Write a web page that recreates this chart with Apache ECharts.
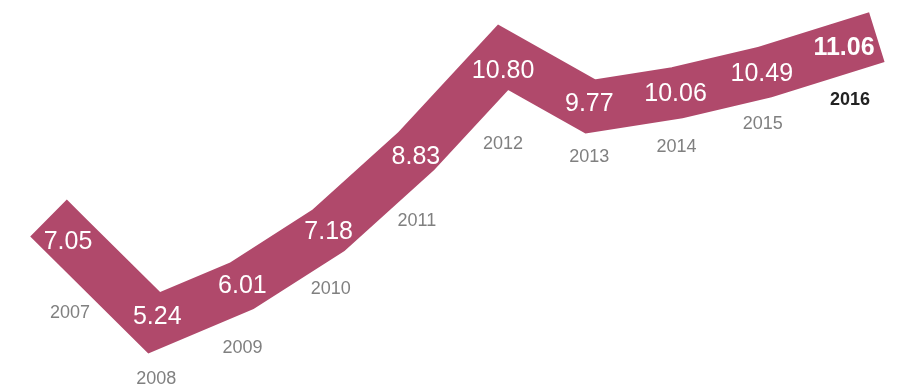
<!DOCTYPE html>
<html>
<head>
<meta charset="utf-8">
<script src="https://cdn.jsdelivr.net/npm/echarts@6/dist/echarts.min.js"></script>
<style>
  html, body { margin: 0; padding: 0; background: #ffffff; }
  #chart { width: 905px; height: 390px; }
</style>
</head>
<body>
<div id="chart"></div>
<script>
// Yearly values drawn as a thick ribbon
const years = ['2007', '2008', '2009', '2010', '2011', '2012', '2013', '2014', '2015', '2016'];
const values = [7.05, 5.24, 6.01, 7.18, 8.83, 10.80, 9.77, 10.06, 10.49, 11.06];
const valueLabels = ['7.05', '5.24', '6.01', '7.18', '8.83', '10.80', '9.77', '10.06', '10.49', '11.06'];

// Label nudges (px) relative to each point on the ribbon
const valueLabelOffsets = [[1, 6], [3, -6], [1, 0], [0, 2], [0, 6], [0, 14], [-1, -2], [-2, 1], [-3, 2], [-8, 3]];
const yearLabelOffsets = [[3, 77], [2, 56], [1, 62], [2, 59], [1, 70], [0, 87], [-1, 51], [-1, 54], [-2, 52], [-2, 55]];

const FONT = '"Liberation Sans", Arial, Helvetica, sans-serif';
const RIBBON = '#b0496b';
const lastIdx = years.length - 1;

// one slot per year on a numeric x axis, so the square line caps have room at both ends
const points = values.map((v, i) => [i, v]);

const valuePoints = points.map((p, i) => ({
  value: p,
  label: {
    formatter: valueLabels[i],
    offset: valueLabelOffsets[i],
    fontWeight: i === lastIdx ? 'bold' : 'normal'
  }
}));

const yearPoints = points.map((p, i) => ({
  value: p,
  label: {
    formatter: years[i],
    offset: yearLabelOffsets[i],
    color: i === lastIdx ? '#222222' : '#808080',
    fontWeight: i === lastIdx ? 'bold' : 'normal'
  }
}));

// invisible point carriers for the text labels
const labelCarrier = {
  type: 'scatter',
  symbolSize: 1,
  itemStyle: { color: 'rgba(0,0,0,0)', opacity: 1 },
  silent: true,
  emphasis: { disabled: true },
  z: 3
};

const chart = echarts.init(document.getElementById('chart'), null, { renderer: 'canvas' });
chart.setOption({
  animation: false,
  backgroundColor: '#ffffff',
  grid: { left: 32.1, right: 18.1, top: 0, bottom: 8 },
  xAxis: {
    type: 'value',
    min: -0.4,
    max: 9.4,
    show: false
  },
  yAxis: {
    type: 'value',
    min: 4,
    max: 12,
    show: false
  },
  series: [
    {
      type: 'line',
      data: points,
      symbol: 'none',
      silent: true,
      clip: false,
      lineStyle: {
        width: 52,
        color: RIBBON,
        opacity: 1,
        cap: 'square',
        join: 'miter',
        miterLimit: 10
      },
      z: 1
    },
    Object.assign({}, labelCarrier, {
      data: valuePoints,
      label: {
        show: true,
        position: 'inside',
        color: '#ffffff',
        fontSize: 25,
        fontFamily: FONT
      }
    }),
    Object.assign({}, labelCarrier, {
      data: yearPoints,
      label: {
        show: true,
        position: 'inside',
        fontSize: 18,
        fontFamily: FONT
      }
    })
  ]
});
</script>
</body>
</html>
